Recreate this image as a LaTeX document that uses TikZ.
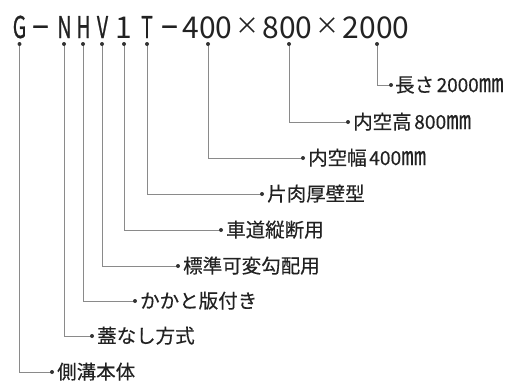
\documentclass[tikz,border=0pt]{standalone}
\usepackage{graphicx}
\usepackage{fontspec}
\setmainfont{Noto Sans CJK JP}
\newfontfamily\boldish[FakeBold=0.9]{Noto Sans CJK JP}
\newfontfamily\lblfont[FakeBold=0.3]{Noto Sans CJK JP}
\definecolor{txt}{HTML}{222222}
\definecolor{linec}{HTML}{8A8A8A}
\definecolor{dotc}{HTML}{333333}
\newcommand{\dg}[2]{\resizebox{#1}{14pt}{#2}}
\newcommand{\mmu}{\resizebox{25pt}{14pt}{㎜}}
\tikzset{
  topch/.style={font=\fontsize{30}{30}\selectfont, inner sep=0pt, anchor=base, text=txt},
  narrowch/.style={topch, font=\fontsize{30}{30}\boldish, xscale=0.65},
  timesch/.style={topch, scale=0.8},
  lbl/.style={font=\fontsize{19.5}{19.5}\lblfont, inner sep=0pt, anchor=base west, text=txt},
  conn/.style={draw=linec, line width=0.9pt},
}
\begin{document}
\begin{tikzpicture}[x=1pt,y=-1pt]
\useasboundingbox (0,0) rectangle (506,383);
% top code
\node[narrowch] (cG) at (19.5,38) {G};
\node[narrowch] (cd1) at (40.5,38) {－};
\node[narrowch] (cN) at (64.5,38) {N};
\node[narrowch] (cH) at (83.5,38) {H};
\node[narrowch] (cV) at (102.5,38) {V};
\node[topch] (c1) at (123.5,38) {1};
\node[narrowch] (cT) at (147,38) {T};
\node[narrowch] (cd2) at (169.5,38) {－};
\node[topch] (c400) at (207.5,38) {400};
\node[timesch] (cx1) at (247.5,34) {×};
\node[topch] (c800) at (287.5,38) {800};
\node[timesch] (cx2) at (327.5,34) {×};
\node[topch] (c2000) at (376,38) {2000};
% dots under code
\coordinate (dG) at (19.5,44);
\coordinate (dN) at (64,44);
\coordinate (dH) at (83,44);
\coordinate (dV) at (102,44);
\coordinate (d1) at (124,44);
\coordinate (dT) at (147,44);
\coordinate (d400) at (208,44);
\coordinate (d800) at (289,44);
\coordinate (d2000) at (377,44);
% label dots
\coordinate (e2000) at (391,85);
\coordinate (e800) at (348,122);
\coordinate (e400) at (303,158);
\coordinate (eT) at (262,194);
\coordinate (e1) at (221,230);
\coordinate (eV) at (178,266);
\coordinate (eH) at (135,301);
\coordinate (eN) at (92,336);
\coordinate (eG) at (52,372);
% labels
\node[lbl] (l2000) at (395,92) {長さ\hspace{2.5pt}\dg{42pt}{2000}\mmu};
\node[lbl] (l800) at (353,129) {内空高\hspace{2.5pt}\dg{32pt}{800}\mmu};
\node[lbl] (l400) at (308,165) {内空幅\hspace{2.5pt}\dg{32pt}{400}\mmu};
\node[lbl] (lT) at (267,201) {片肉厚壁型};
\node[lbl] (l1) at (226,237) {車道縦断用};
\node[lbl] (lV) at (183,273) {標準可変勾配用};
\node[lbl] (lH) at (140,308) {かかと版付き};
\node[lbl] (lN) at (97,343) {蓋なし方式};
\node[lbl] (lG) at (57,379) {側溝本体};
% connectors
\foreach \k in {G,N,H,V,1,T,400,800,2000}{
  \draw[conn] (d\k) |- (e\k);
  \fill[dotc] (d\k) circle (2pt);
  \fill[dotc] (e\k) circle (2pt);
}
\end{tikzpicture}
\end{document}
